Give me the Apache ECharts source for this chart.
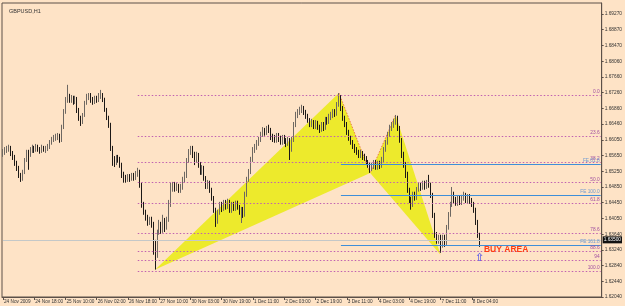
<!DOCTYPE html>
<html>
<head>
<meta charset="utf-8">
<script src="https://cdn.jsdelivr.net/npm/echarts@6/dist/echarts.min.js"></script>
<style>
html,body{margin:0;padding:0;background:#FEE3C6;}
#c{width:625px;height:306px;}
</style>
</head>
<body>
<div id="c"></div>
<script>
// ---- data ----
const symbolTitle = 'GBPUSD,H1';
const tickLabels = ['24 Nov 2009','24 Nov 18:00','25 Nov 10:00','26 Nov 02:00','26 Nov 18:00','27 Nov 10:00','30 Nov 03:00','30 Nov 19:00','1 Dec 11:00','2 Dec 03:00','2 Dec 19:00','3 Dec 11:00','4 Dec 03:00','4 Dec 19:00','7 Dec 11:00','8 Dec 04:00'];
const priceTicks = [1.69270,1.68870,1.68470,1.68060,1.67660,1.67260,1.66860,1.66460,1.66050,1.65650,1.65250,1.64850,1.64450,1.64050,1.63640,1.63240,1.62840,1.62440,1.62040];
// [open, close, low, high]
const candles = [
[1.6570,1.6575,1.6562,1.6582],[1.6575,1.6580,1.6567,1.6587],[1.6580,1.6582,1.6572,1.6590],[1.6582,1.6585,1.6575,1.6593],[1.6585,1.6572,1.6564,1.6590],
[1.6572,1.6562,1.6554,1.6577],[1.6562,1.6547,1.6539,1.6567],[1.6547,1.6534,1.6526,1.6552],[1.6534,1.6516,1.6508,1.6539],[1.6516,1.6508,1.6498,1.6521],
[1.6508,1.6524,1.6501,1.6529],[1.6524,1.6554,1.6518,1.6559],[1.6554,1.6575,1.6549,1.6580],[1.6575,1.6567,1.6529,1.6580],[1.6567,1.6580,1.6562,1.6587],
[1.6580,1.6585,1.6572,1.6593],[1.6585,1.6580,1.6572,1.6590],[1.6580,1.6587,1.6575,1.6595],[1.6587,1.6582,1.6575,1.6593],[1.6582,1.6577,1.6570,1.6587],
[1.6577,1.6585,1.6572,1.6593],[1.6585,1.6580,1.6575,1.6590],[1.6580,1.6582,1.6572,1.6590],[1.6582,1.6587,1.6577,1.6595],[1.6587,1.6600,1.6582,1.6605],
[1.6600,1.6605,1.6593,1.6613],[1.6605,1.6610,1.6600,1.6618],[1.6610,1.6613,1.6603,1.6621],[1.6613,1.6616,1.6605,1.6623],[1.6616,1.6605,1.6598,1.6621],
[1.6605,1.6638,1.6600,1.6644],[1.6638,1.6677,1.6633,1.6684],[1.6677,1.6707,1.6672,1.6715],[1.6707,1.6715,1.6700,1.6746],[1.6715,1.6707,1.6700,1.6723],
[1.6707,1.6713,1.6700,1.6720],[1.6713,1.6702,1.6695,1.6718],[1.6702,1.6710,1.6697,1.6718],[1.6710,1.6682,1.6674,1.6715],[1.6682,1.6661,1.6654,1.6687],
[1.6661,1.6651,1.6641,1.6667],[1.6651,1.6669,1.6646,1.6674],[1.6669,1.6700,1.6664,1.6705],[1.6700,1.6715,1.6695,1.6723],[1.6715,1.6720,1.6707,1.6725],
[1.6720,1.6707,1.6700,1.6725],[1.6707,1.6702,1.6695,1.6715],[1.6702,1.6710,1.6697,1.6718],[1.6710,1.6707,1.6700,1.6718],[1.6707,1.6718,1.6702,1.6725],
[1.6718,1.6723,1.6710,1.6733],[1.6723,1.6707,1.6702,1.6725],[1.6707,1.6682,1.6677,1.6713],[1.6682,1.6661,1.6656,1.6687],[1.6661,1.6644,1.6636,1.6667],
[1.6644,1.6585,1.6577,1.6649],[1.6585,1.6554,1.6539,1.6590],[1.6554,1.6547,1.6536,1.6564],[1.6547,1.6559,1.6541,1.6567],[1.6559,1.6554,1.6547,1.6567],
[1.6554,1.6541,1.6534,1.6562],[1.6541,1.6516,1.6508,1.6547],[1.6516,1.6508,1.6496,1.6524],[1.6508,1.6503,1.6496,1.6516],[1.6503,1.6511,1.6498,1.6518],
[1.6511,1.6506,1.6498,1.6518],[1.6506,1.6513,1.6501,1.6521],[1.6513,1.6508,1.6501,1.6521],[1.6508,1.6518,1.6503,1.6526],[1.6518,1.6524,1.6511,1.6534],
[1.6524,1.6490,1.6483,1.6529],[1.6490,1.6439,1.6432,1.6496],[1.6439,1.6421,1.6414,1.6447],[1.6421,1.6406,1.6399,1.6427],[1.6406,1.6396,1.6386,1.6414],
[1.6396,1.6401,1.6388,1.6409],[1.6401,1.6388,1.6381,1.6409],[1.6388,1.6337,1.6312,1.6396],[1.6337,1.6312,1.6274,1.6350],[1.6312,1.6370,1.6304,1.6376],
[1.6370,1.6388,1.6363,1.6401],[1.6388,1.6376,1.6365,1.6396],[1.6376,1.6396,1.6368,1.6414],[1.6396,1.6381,1.6370,1.6406],[1.6381,1.6401,1.6376,1.6409],
[1.6401,1.6439,1.6396,1.6452],[1.6439,1.6483,1.6434,1.6496],[1.6483,1.6490,1.6473,1.6498],[1.6490,1.6483,1.6473,1.6498],[1.6483,1.6488,1.6475,1.6496],
[1.6488,1.6478,1.6470,1.6493],[1.6478,1.6485,1.6470,1.6493],[1.6485,1.6503,1.6478,1.6511],[1.6503,1.6516,1.6496,1.6524],[1.6516,1.6554,1.6508,1.6559],
[1.6554,1.6575,1.6547,1.6582],[1.6575,1.6585,1.6567,1.6590],[1.6585,1.6567,1.6559,1.6590],[1.6567,1.6554,1.6541,1.6575],[1.6554,1.6567,1.6547,1.6575],
[1.6567,1.6541,1.6534,1.6572],[1.6541,1.6524,1.6516,1.6549],[1.6524,1.6534,1.6516,1.6541],[1.6534,1.6508,1.6501,1.6539],[1.6508,1.6488,1.6480,1.6513],
[1.6488,1.6496,1.6480,1.6503],[1.6496,1.6478,1.6470,1.6501],[1.6478,1.6457,1.6450,1.6483],[1.6457,1.6427,1.6419,1.6462],[1.6427,1.6396,1.6383,1.6432],
[1.6396,1.6421,1.6391,1.6427],[1.6421,1.6439,1.6414,1.6447],[1.6439,1.6432,1.6421,1.6447],[1.6432,1.6444,1.6424,1.6452],[1.6444,1.6437,1.6427,1.6452],
[1.6437,1.6447,1.6429,1.6455],[1.6447,1.6427,1.6419,1.6452],[1.6427,1.6439,1.6419,1.6447],[1.6439,1.6432,1.6424,1.6447],[1.6432,1.6442,1.6424,1.6450],
[1.6442,1.6434,1.6427,1.6450],[1.6434,1.6421,1.6414,1.6439],[1.6421,1.6427,1.6393,1.6434],[1.6427,1.6414,1.6406,1.6434],[1.6414,1.6465,1.6409,1.6473],
[1.6465,1.6503,1.6460,1.6511],[1.6503,1.6524,1.6498,1.6531],[1.6524,1.6554,1.6518,1.6562],[1.6554,1.6580,1.6549,1.6587],[1.6580,1.6585,1.6572,1.6595],
[1.6585,1.6598,1.6580,1.6605],[1.6598,1.6605,1.6590,1.6613],[1.6605,1.6618,1.6600,1.6626],[1.6618,1.6631,1.6613,1.6638],[1.6631,1.6623,1.6616,1.6636],
[1.6623,1.6636,1.6618,1.6641],[1.6636,1.6631,1.6623,1.6644],[1.6631,1.6613,1.6605,1.6636],[1.6613,1.6610,1.6600,1.6621],[1.6610,1.6605,1.6598,1.6618],
[1.6605,1.6616,1.6598,1.6623],[1.6616,1.6608,1.6600,1.6623],[1.6608,1.6600,1.6593,1.6616],[1.6600,1.6610,1.6593,1.6618],[1.6610,1.6603,1.6595,1.6618],
[1.6603,1.6598,1.6587,1.6610],[1.6598,1.6605,1.6590,1.6613],[1.6605,1.6585,1.6554,1.6610],[1.6585,1.6605,1.6575,1.6613],[1.6605,1.6644,1.6600,1.6651],
[1.6644,1.6669,1.6638,1.6677],[1.6669,1.6677,1.6661,1.6684],[1.6677,1.6682,1.6669,1.6690],[1.6682,1.6687,1.6674,1.6695],[1.6687,1.6677,1.6669,1.6692],
[1.6677,1.6667,1.6659,1.6682],[1.6667,1.6656,1.6649,1.6672],[1.6656,1.6646,1.6638,1.6661],[1.6646,1.6651,1.6638,1.6659],[1.6651,1.6641,1.6633,1.6656],
[1.6641,1.6649,1.6633,1.6656],[1.6649,1.6638,1.6631,1.6654],[1.6638,1.6631,1.6623,1.6644],[1.6631,1.6644,1.6626,1.6651],[1.6644,1.6636,1.6628,1.6651],
[1.6636,1.6656,1.6631,1.6664],[1.6656,1.6651,1.6644,1.6664],[1.6651,1.6664,1.6646,1.6672],[1.6664,1.6669,1.6656,1.6677],[1.6669,1.6677,1.6661,1.6684],
[1.6677,1.6672,1.6664,1.6684],[1.6672,1.6695,1.6667,1.6702],[1.6695,1.6715,1.6690,1.6725],[1.6715,1.6687,1.6679,1.6720],[1.6687,1.6661,1.6654,1.6692],
[1.6661,1.6646,1.6638,1.6667],[1.6646,1.6626,1.6618,1.6651],[1.6626,1.6610,1.6603,1.6631],[1.6610,1.6600,1.6593,1.6616],[1.6600,1.6590,1.6582,1.6605],
[1.6590,1.6580,1.6572,1.6595],[1.6580,1.6575,1.6567,1.6587],[1.6575,1.6567,1.6559,1.6580],[1.6567,1.6572,1.6559,1.6580],[1.6572,1.6562,1.6554,1.6577],
[1.6562,1.6559,1.6552,1.6570],[1.6559,1.6549,1.6541,1.6564],[1.6549,1.6541,1.6534,1.6554],[1.6541,1.6534,1.6521,1.6547],[1.6534,1.6539,1.6526,1.6547],
[1.6539,1.6547,1.6531,1.6554],[1.6547,1.6536,1.6529,1.6554],[1.6536,1.6544,1.6529,1.6552],[1.6544,1.6539,1.6531,1.6552],[1.6539,1.6554,1.6534,1.6562],
[1.6554,1.6580,1.6549,1.6587],[1.6580,1.6598,1.6575,1.6605],[1.6598,1.6618,1.6593,1.6626],[1.6618,1.6636,1.6613,1.6644],[1.6636,1.6644,1.6628,1.6651],
[1.6644,1.6651,1.6636,1.6659],[1.6651,1.6661,1.6644,1.6669],[1.6661,1.6636,1.6628,1.6667],[1.6636,1.6605,1.6598,1.6641],[1.6605,1.6567,1.6559,1.6610],
[1.6567,1.6541,1.6534,1.6575],[1.6541,1.6516,1.6508,1.6549],[1.6516,1.6478,1.6470,1.6524],[1.6478,1.6452,1.6444,1.6483],[1.6452,1.6439,1.6427,1.6460],
[1.6439,1.6465,1.6434,1.6473],[1.6465,1.6457,1.6450,1.6473],[1.6457,1.6478,1.6452,1.6485],[1.6478,1.6488,1.6473,1.6496],[1.6488,1.6483,1.6475,1.6496],
[1.6483,1.6493,1.6478,1.6501],[1.6493,1.6485,1.6478,1.6501],[1.6485,1.6496,1.6480,1.6503],[1.6496,1.6490,1.6483,1.6516],[1.6490,1.6465,1.6457,1.6496],
[1.6465,1.6414,1.6406,1.6470],[1.6414,1.6363,1.6355,1.6419],[1.6363,1.6350,1.6340,1.6370],[1.6350,1.6355,1.6340,1.6363],[1.6355,1.6337,1.6317,1.6363],
[1.6337,1.6355,1.6330,1.6363],[1.6355,1.6345,1.6332,1.6363],[1.6345,1.6381,1.6337,1.6388],[1.6381,1.6414,1.6376,1.6421],[1.6414,1.6439,1.6409,1.6447],
[1.6439,1.6465,1.6434,1.6485],[1.6465,1.6452,1.6444,1.6473],[1.6452,1.6444,1.6437,1.6460],[1.6444,1.6455,1.6437,1.6462],[1.6455,1.6447,1.6439,1.6462],
[1.6447,1.6457,1.6439,1.6465],[1.6457,1.6462,1.6450,1.6473],[1.6462,1.6452,1.6444,1.6470],[1.6452,1.6460,1.6444,1.6467],[1.6460,1.6450,1.6442,1.6467],
[1.6450,1.6442,1.6434,1.6457],[1.6442,1.6427,1.6419,1.6447],[1.6427,1.6396,1.6388,1.6432],[1.6396,1.6363,1.6355,1.6401],[1.6363,1.6350,1.6332,1.6368]
];
const totalSlots = 307;
const fibNames = ['0.0','23.6','38.2','50.0','61.8','78.6','88.6','94','100.0'];
const fibPrices = [1.6720,1.6614,1.6548,1.6496,1.6443,1.6367,1.6322,1.6298,1.6271];
const fibStart = 69;
const feNames = ['FE 61.8','FE 100.0','FE 161.8'];
const fePrices = [1.6543,1.6465,1.6337];
const feStart = 173;
const patternIdx = [78,172,188,201,224];      // X, A, B, C, D
const patternPrice = [1.6274,1.6725,1.6521,1.6669,1.6312];
const bidPrice = 1.6350;
const bidLabel = '1.63500';
const buyText = 'BUY AREA';
const buyPos = [246, 1.6325];
const arrowPos = [244, 1.6304];

// ---- chart ----
const FONT = 'Liberation Sans, Arial, sans-serif';
const cats = Array.from({length: totalSlots}, (_, i) => String(i));
const showTick = (i) => i % 16 === 0 && i / 16 < tickLabels.length;

const P = (k) => [patternIdx[k], patternPrice[k]];
const triangles = [
  [...P(0), ...P(1), ...P(2)],
  [...P(2), ...P(3), ...P(4)]
];

const fibLines = fibPrices.map((p, i) => [
  {coord: [fibStart, p], name: fibNames[i]},
  {coord: [totalSlots - 1, p]}
]);
const feLines = fePrices.map((p, i) => [
  {coord: [feStart, p], name: feNames[i]},
  {coord: [totalSlots - 1, p]}
]);

const chart = echarts.init(document.getElementById('c'), null, {renderer: 'canvas'});
chart.setOption({
  backgroundColor: '#FEE3C6',
  animation: false,
  textStyle: {fontFamily: FONT},
  title: {text: symbolTitle, left: 4, top: 3, textStyle: {fontSize: 5.5, fontWeight: 'normal', color: '#333', fontFamily: FONT}},
  grid: {left: 2, right: 20, top: 3, bottom: 9, show: true, borderColor: '#5c5048', borderWidth: 1, backgroundColor: 'transparent'},
  xAxis: {
    type: 'category', data: cats, boundaryGap: true,
    axisLine: {lineStyle: {color: '#5c5048'}},
    axisTick: {show: true, interval: (i) => showTick(i), alignWithLabel: true, length: 3, lineStyle: {color: '#5c5048'}},
    axisLabel: {interval: (i) => showTick(i), formatter: (v, i) => tickLabels[Math.round(i / 16)] || '', align: 'left', fontSize: 4.7, margin: 2, color: '#333', fontFamily: FONT, padding: [0,0,0,1]},
    splitLine: {show: false}
  },
  yAxis: {
    type: 'value', position: 'right', min: 1.6204, max: 1.6955, scale: true,
    axisLine: {show: true, lineStyle: {color: '#5c5048'}},
    axisTick: {show: true, customValues: priceTicks, length: 2, lineStyle: {color: '#5c5048'}},
    axisLabel: {customValues: priceTicks, formatter: (v) => v.toFixed(5), fontSize: 4.8, margin: 3, color: '#333', fontFamily: FONT},
    splitLine: {show: false}
  },
  series: [
    {
      type: 'custom', z: 1, silent: true, clip: true,
      encode: {x: [0, 2, 4], y: [1, 3, 5]},
      data: triangles,
      renderItem: (params, api) => {
        const pts = [
          api.coord([api.value(0), api.value(1)]),
          api.coord([api.value(2), api.value(3)]),
          api.coord([api.value(4), api.value(5)])
        ];
        return {type: 'polygon', shape: {points: pts}, style: {fill: '#EDEA2C'}};
      }
    },
    {
      type: 'line', z: 2, silent: true, symbol: 'none',
      data: [P(1), P(2), P(3)],
      lineStyle: {color: '#E8603A', width: 1, type: [1.5, 1.5], opacity: 0.8}
    },
    {
      type: 'scatter', z: 6, silent: true,
      symbol: 'rect', symbolSize: 1,
      itemStyle: {color: 'rgba(0,0,0,0)', opacity: 1},
      data: [
        {value: buyPos, label: {show: true, position: 'right', distance: 0, formatter: buyText, color: '#FF3F14', fontSize: 8.5, fontWeight: 'bold', fontFamily: FONT}},
        {value: arrowPos, label: {show: true, position: 'inside', formatter: '⇧', color: '#6464E6', fontSize: 11, fontWeight: 'bold', fontFamily: 'DejaVu Sans'}}
      ]
    },
    {
      type: 'candlestick', z: 3, silent: true,
      data: candles,
      barWidth: 1.3,
      itemStyle: {color: '#8e8780', color0: '#1c1816', borderColor: '#6e6862', borderColor0: '#1c1816', borderWidth: 1},
      markLine: {
        silent: true, symbol: ['none', 'none'], animation: false,
        data: [
          [{coord: [0, bidPrice], name: bidLabel,
            lineStyle: {color: '#C4C8C8', type: 'solid', width: 1},
            label: {show: true, position: 'end', formatter: '{b}', backgroundColor: '#111', color: '#fff', fontSize: 4.8, padding: [1, 1], distance: 2, fontFamily: FONT}},
           {coord: [totalSlots - 1, bidPrice]}],
          ...fibLines.map(l => [Object.assign({}, l[0], {
            lineStyle: {color: '#C060B0', type: [1.5, 2], width: 1},
            label: {show: true, position: 'insideEndTop', formatter: '{b}', color: '#A050A0', fontSize: 4.8, distance: 1, fontFamily: FONT}
          }), l[1]]),
          ...feLines.map(l => [Object.assign({}, l[0], {
            lineStyle: {color: '#3F8FD8', type: 'solid', width: 1},
            label: {show: true, position: 'insideEndTop', formatter: '{b}', color: '#6F9AD0', fontSize: 4.8, distance: 1, fontFamily: FONT}
          }), l[1]])
        ]
      }
    }
  ]
});
</script>
</body>
</html>
